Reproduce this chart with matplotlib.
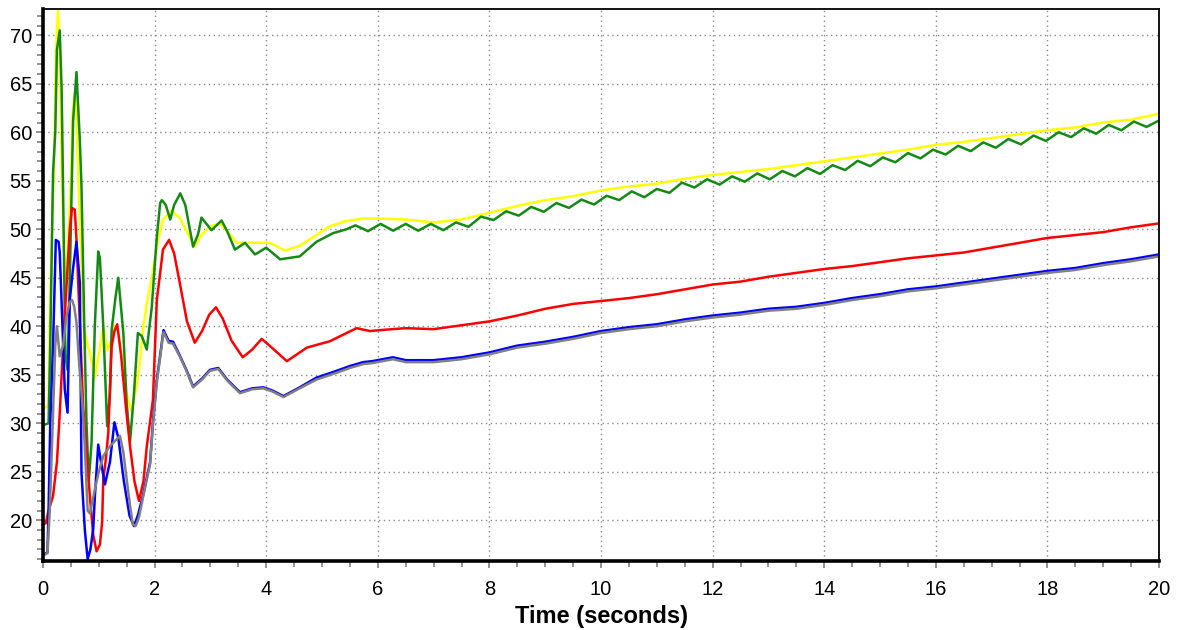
import numpy as np
import matplotlib
matplotlib.use('Agg')
import matplotlib.pyplot as plt
from matplotlib.ticker import MultipleLocator

# ---- data ----
yellow_t = [0, 0.1, 0.12, 0.17, 0.2, 0.23, 0.27, 0.3, 0.33, 0.37, 0.42, 0.46, 0.5, 0.53,
            0.57, 0.6, 0.63, 0.68, 0.72, 0.78, 0.85, 0.93, 1.0, 1.08, 1.15, 1.22, 1.28,
            1.35, 1.45, 1.52, 1.59, 1.65, 1.72, 1.8, 1.88, 1.95, 2.05, 2.15, 2.3, 2.45,
            2.6, 2.72, 2.85, 3.0, 3.17, 3.3, 3.47, 3.7, 4.07, 4.2, 4.34, 4.6, 4.9, 5.14,
            5.4, 5.74, 6.0, 6.5, 7.0, 7.5, 8.0, 8.5, 9.0, 9.5, 10.0, 10.5, 11.0, 11.5,
            12.0, 12.5, 13.0, 13.5, 14.0, 14.5, 15.0, 15.5, 16.0, 16.5, 17.0, 17.5, 18.0,
            18.5, 19.0, 19.5, 20.0]
yellow_v = [31.5, 31.8, 40, 52, 56, 68, 72.5, 68, 58, 48, 45, 50, 55, 62,
            64, 62, 55.8, 48, 40.5, 38.5, 37, 34.7, 37, 40, 37.5, 38.5, 40,
            39.5, 35, 32.5, 31.2, 33, 35.5, 40, 43, 45, 48.5, 51, 51.9, 51.2,
            49.5, 48.2, 49.5, 50.3, 50.6, 49.8, 48.6, 48.6, 48.6, 48.2, 47.8, 48.3, 49.4, 50.3,
            50.8, 51.1, 51.1, 51.0, 50.7, 51.0, 51.7, 52.4, 53.0, 53.4, 54.0, 54.4, 54.7, 55.2,
            55.6, 55.9, 56.2, 56.6, 57.0, 57.4, 57.8, 58.2, 58.7, 59.0, 59.4, 59.8, 60.2,
            60.5, 61.0, 61.3, 61.9]

green_t_early = [0, 0.1, 0.13, 0.18, 0.22, 0.25, 0.3, 0.335, 0.36, 0.4, 0.44, 0.48, 0.54,
                 0.6, 0.66, 0.69, 0.74, 0.78, 0.82, 0.87, 0.93, 0.99, 1.02, 1.08, 1.15,
                 1.2, 1.23, 1.3, 1.35, 1.44, 1.5, 1.56, 1.63, 1.7, 1.77, 1.86, 1.95, 2.0,
                 2.04, 2.1, 2.13, 2.2, 2.28, 2.35, 2.46, 2.55, 2.69, 2.78, 2.84, 3.02,
                 3.2, 3.3, 3.44, 3.62, 3.8, 4.0, 4.25, 4.6, 4.9, 5.2, 5.44]
green_v_early = [29.8, 30.0, 38, 55.8, 60, 68.5, 70.5, 64.3, 54, 37, 35.5, 45, 61.2,
                 66.2, 59.2, 54.4, 40, 30, 24, 28, 40.2, 47.7, 47, 40, 29.7,
                 33, 39.6, 43, 45, 39.3, 32, 28.1, 33, 39.3, 39, 37.6, 42, 46.1,
                 49.2, 52.7, 53.0, 52.5, 51, 52.5, 53.7, 52.5, 48.2, 49.5, 51.2, 49.9,
                 50.9, 49.8, 47.9, 48.6, 47.4, 48.1, 46.9, 47.2, 48.7, 49.6, 50.0]
green_t_tail = np.linspace(5.6, 20.0, 65)
green_v_tail = [50.4, 49.8, 50.55, 49.85, 50.55, 49.85, 50.55, 49.9, 50.7, 50.25,
                51.3, 50.95, 51.85, 51.4, 52.3, 51.8, 52.7, 52.2, 53.05, 52.55,
                53.45, 53.0, 53.9, 53.3, 54.15, 53.75, 54.8, 54.3, 55.15, 54.6,
                55.45, 54.9, 55.75, 55.15, 56.0, 55.45, 56.3, 55.7, 56.6, 56.1,
                57.05, 56.5, 57.4, 56.9, 57.85, 57.3, 58.2, 57.7, 58.6, 58.05,
                58.95, 58.4, 59.3, 58.75, 59.65, 59.1, 60.0, 59.5, 60.4, 59.85,
                60.75, 60.2, 61.1, 60.55, 61.2]

red_t = [0, 0.05, 0.1, 0.18, 0.25, 0.3, 0.36, 0.42, 0.48, 0.52, 0.57, 0.6, 0.66, 0.72,
         0.78, 0.84, 0.9, 0.96, 1.02, 1.06, 1.08, 1.12, 1.17, 1.23, 1.28, 1.33, 1.4,
         1.48, 1.56, 1.64, 1.72, 1.8, 1.86, 1.97, 2.04, 2.1, 2.15, 2.26, 2.35, 2.45,
         2.58, 2.72, 2.85, 2.98, 3.1, 3.22, 3.38, 3.58, 3.75, 3.92, 4.1, 4.37, 4.73,
         5.14, 5.44, 5.62, 5.86, 6.04, 6.5, 7.0, 7.5, 8.0, 8.5, 9.0, 9.5, 10.0, 10.5,
         11.0, 11.5, 12.0, 12.5, 13.0, 13.5, 14.0, 14.5, 15.0, 15.5, 16.0, 16.5, 17.0,
         17.5, 18.0, 18.5, 19.0, 19.5, 20.0]
red_v = [19.6, 19.7, 21, 22.5, 26, 31, 37.9, 44, 50, 52.2, 52, 48.9, 40.4, 31.7,
         27, 22.5, 18.5, 16.8, 17.5, 19.8, 24.2, 26, 29, 37.9, 39.5, 40.2, 37,
         32, 27.6, 24, 22, 24, 27.6, 32.4, 42.7, 45.5, 47.9, 48.9, 47.5, 44.5,
         40.5, 38.3, 39.5, 41.2, 41.95, 40.8, 38.5, 36.8, 37.6, 38.7, 37.8, 36.4, 37.8,
         38.45, 39.3, 39.8, 39.5, 39.6, 39.8, 39.7, 40.1, 40.5, 41.1, 41.8, 42.3, 42.6, 42.9,
         43.3, 43.8, 44.3, 44.6, 45.1, 45.5, 45.9, 46.2, 46.6, 47.0, 47.3, 47.6, 48.1,
         48.6, 49.1, 49.4, 49.7, 50.2, 50.6]

blue_t = [0, 0.08, 0.1, 0.13, 0.18, 0.23, 0.28, 0.3, 0.33, 0.39, 0.44, 0.48, 0.54, 0.6,
          0.66, 0.69, 0.75, 0.8, 0.85, 0.9, 0.93, 0.99, 1.04, 1.11, 1.2, 1.28, 1.35,
          1.45, 1.55, 1.63, 1.7, 1.79, 1.92, 1.97, 2.04, 2.16, 2.25, 2.33, 2.45, 2.57,
          2.69, 2.85, 2.99, 3.14, 3.3, 3.53, 3.75, 3.95, 4.1, 4.31, 4.6, 4.9, 5.26,
          5.5, 5.74, 5.9, 6.27, 6.5, 7.0, 7.5, 8.0, 8.5, 9.0, 9.5, 10.0, 10.5, 11.0,
          11.5, 12.0, 12.5, 13.0, 13.5, 14.0, 14.5, 15.0, 15.5, 16.0, 16.5, 17.0, 17.5,
          18.0, 18.5, 19.0, 19.5, 20.0]
blue_v = [16.4, 16.7, 21, 30, 38, 48.9, 48.7, 47.6, 43, 33.5, 31.1, 42.7, 46, 48.7,
          44.5, 24.9, 19, 16, 17, 19.1, 22.5, 27.8, 26, 23.7, 26, 30.1, 28.5,
          24, 20.5, 19.4, 20.5, 22.5, 26, 30.1, 34.5, 39.6, 38.5, 38.4, 37, 35.5,
          33.8, 34.6, 35.5, 35.7, 34.5, 33.2, 33.6, 33.7, 33.4, 32.8, 33.7, 34.7, 35.4,
          35.9, 36.3, 36.4, 36.8, 36.5, 36.5, 36.8, 37.3, 38.0, 38.4, 38.9, 39.5, 39.9, 40.2,
          40.7, 41.1, 41.4, 41.8, 42.0, 42.4, 42.9, 43.3, 43.8, 44.1, 44.5, 44.9, 45.3,
          45.7, 46.0, 46.5, 46.9, 47.4]

grey_t = [0, 0.08, 0.12, 0.18, 0.22, 0.25, 0.3, 0.36, 0.42, 0.48, 0.52, 0.56, 0.6, 0.65,
          0.7, 0.75, 0.8, 0.84, 0.93, 1.0, 1.08, 1.18, 1.26, 1.38, 1.44, 1.5, 1.56,
          1.61, 1.66, 1.72, 1.79, 1.92, 1.97, 2.04, 2.16, 2.25, 2.33, 2.45, 2.57,
          2.69, 2.85, 2.99, 3.14, 3.3, 3.53, 3.75, 3.95, 4.1, 4.31, 4.6, 4.9, 5.26,
          5.5, 5.74, 5.9, 6.27, 6.5, 7.0, 7.5, 8.0, 8.5, 9.0, 9.5, 10.0, 10.5, 11.0,
          11.5, 12.0, 12.5, 13.0, 13.5, 14.0, 14.5, 15.0, 15.5, 16.0, 16.5, 17.0, 17.5,
          18.0, 18.5, 19.0, 19.5, 20.0]
grey_v = [16.4, 16.6, 20.8, 31, 38, 40, 36.9, 38, 41, 42.5, 42.7, 42, 40.4, 36,
          32.5, 27.6, 21, 20.7, 23.2, 25, 26.6, 27.5, 28, 28.7, 27, 24.2, 21.5,
          19.6, 19.4, 20.3, 22.3, 25.8, 29.8, 34.2, 39.4, 38.3, 38.2, 36.9, 35.4,
          33.7, 34.5, 35.4, 35.6, 34.4, 33.1, 33.5, 33.6, 33.3, 32.7, 33.6, 34.5, 35.2,
          35.7, 36.1, 36.2, 36.6, 36.3, 36.3, 36.6, 37.1, 37.8, 38.2, 38.7, 39.3, 39.7, 40.0,
          40.5, 40.9, 41.2, 41.6, 41.8, 42.2, 42.7, 43.1, 43.6, 43.9, 44.3, 44.7, 45.1,
          45.5, 45.8, 46.3, 46.7, 47.2]

plt.rcParams['font.family'] = ['Liberation Sans', 'DejaVu Sans']

fig, ax = plt.subplots(figsize=(11.81, 6.30), dpi=100)
fig.subplots_adjust(left=0.0364, right=0.9814, top=0.9857, bottom=0.1095)

lw = 1.8
ax.plot(yellow_t, yellow_v, color='#ffff00', lw=lw)
ax.plot(list(green_t_early) + list(green_t_tail), green_v_early + green_v_tail,
        color='#138a13', lw=lw)
ax.plot(red_t, red_v, color='#ff0000', lw=lw)
ax.plot(blue_t, blue_v, color='#0000ff', lw=lw)
ax.plot(grey_t, grey_v, color='#808080', lw=lw)

ax.set_xlim(0, 20)
ax.set_ylim(15.8, 72.7)
ax.xaxis.set_major_locator(MultipleLocator(2))
ax.xaxis.set_minor_locator(MultipleLocator(0.5))
ax.yaxis.set_minor_locator(MultipleLocator(1))
ax.set_yticks(range(20, 71, 5))

ax.grid(True, which='major', color='#8a8a8a', linestyle=(0, (1, 2.5)), lw=1)
ax.tick_params(which='both', direction='out', color='#808080', labelsize=14.5)
ax.tick_params(which='major', length=5, width=1.2)
ax.tick_params(which='minor', length=4, width=1.2)
ax.tick_params(axis='y', pad=3)
ax.tick_params(axis='x', pad=9)

for side in ['left', 'bottom']:
    ax.spines[side].set_linewidth(2.6)
for side in ['top', 'right']:
    ax.spines[side].set_linewidth(1.3)

ax.set_xlabel('Time (seconds)', fontsize=17, fontweight='bold', labelpad=4)

plt.savefig('out.png', dpi=100)
plt.close()
